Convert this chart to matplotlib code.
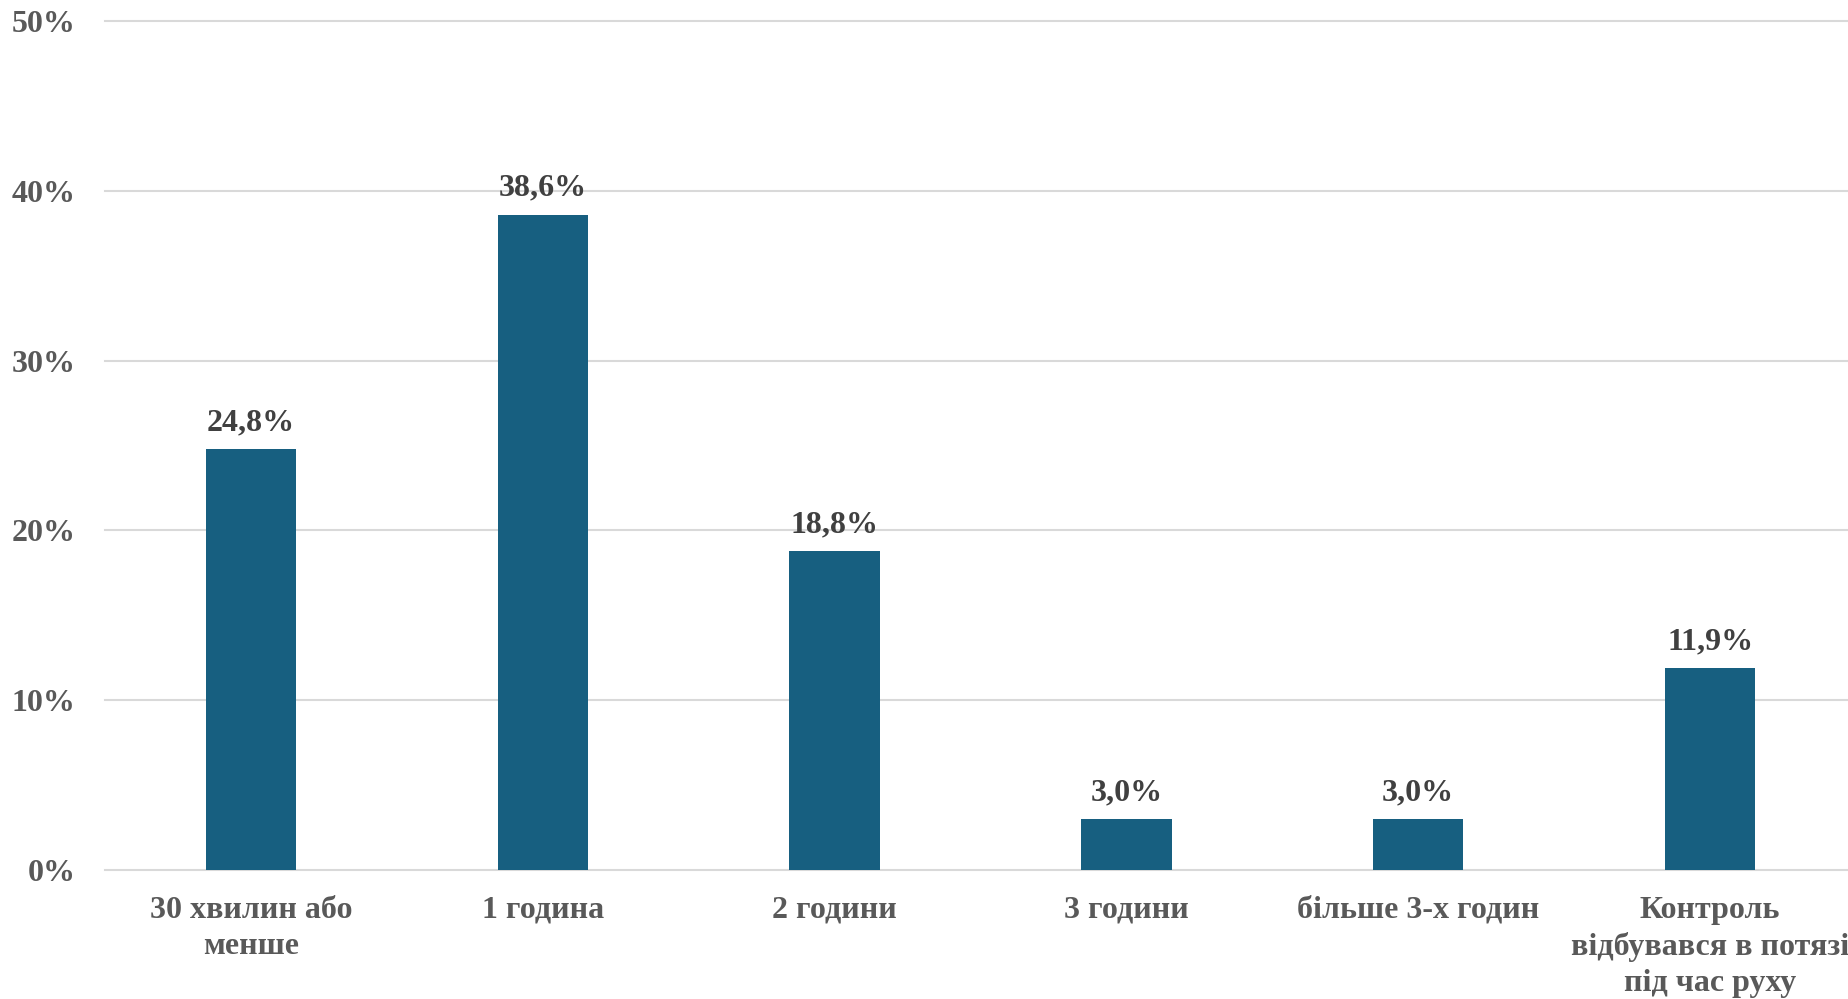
import matplotlib
matplotlib.use("Agg")
import matplotlib.pyplot as plt
from matplotlib.ticker import FuncFormatter

categories = ["30 хвилин або\nменше", "1 година", "2 години", "3 години",
              "більше 3-х годин", "Контроль\nвідбувався в потязі\nпід час руху"]
values = [24.8, 38.6, 18.8, 3.0, 3.0, 11.9]
yticks = [0, 10, 20, 30, 40, 50]

plt.rcParams['font.family'] = ['Liberation Serif', 'DejaVu Serif']
plt.rcParams['font.weight'] = 'bold'

W, H = 1849, 999
fig = plt.figure(figsize=(W / 100, H / 100), dpi=100)
left, right, bottom, top = 105, 1856, 870, 21
ax = fig.add_axes([left / W, (H - bottom) / H, (right - left) / W, (bottom - top) / H])

x = list(range(len(categories)))
bars = ax.bar(x, values, width=0.31, color="#175F80", zorder=3)
ax.set_xlim(-0.5, len(categories) - 0.5)
ax.set_ylim(0, 50)
ax.set_yticks(yticks)
ax.yaxis.set_major_formatter(FuncFormatter(lambda v, p: f"{int(v)}%"))
ax.set_xticks(x)
ax.set_xticklabels(categories, linespacing=1.31)
ax.tick_params(axis='both', length=0, labelsize=23, colors="#595959")
ax.tick_params(axis='y', pad=21)
ax.tick_params(axis='x', pad=18.5)
for s in ax.spines.values():
    s.set_visible(False)
ax.grid(axis='y', color="#D9D9D9", linewidth=1.5, zorder=0)
ax.set_axisbelow(True)
for gl in ax.get_ygridlines():
    gl.set_clip_on(False)

for xi, v in zip(x, values):
    ax.annotate(f"{v:.1f}%".replace(".", ","), (xi, v), xytext=(0, 13.5),
                textcoords="offset points", ha="center", va="baseline",
                fontsize=23, fontweight="bold", color="#404040")

fig.savefig("out.png", dpi=100)
